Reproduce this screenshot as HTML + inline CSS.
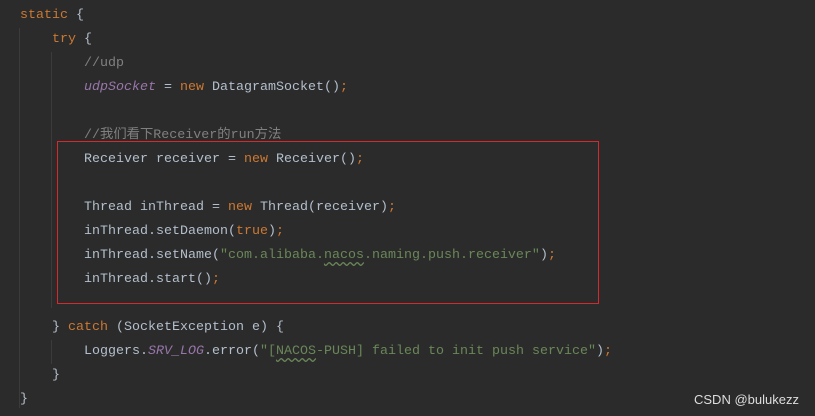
<!DOCTYPE html>
<html><head><meta charset="utf-8"><style>
body{margin:0;width:815px;height:416px;background:#2b2b2b;overflow:hidden;position:relative;font-family:"Liberation Mono","Noto Sans CJK SC",monospace;font-size:13.33px;color:#b3bfcc}
.l{position:absolute;height:24px;line-height:24px;white-space:pre}
.k{color:#cc7832}.c{color:#808080}.f{color:#9876aa;font-style:italic}.s{color:#6a8759}
.w{text-decoration:underline wavy #6a8759;text-underline-offset:3px}
.g{position:absolute;width:1px;background:#3b3b3b}
</style></head><body>
<div class="g" style="left:19px;top:28px;height:380px"></div>
<div class="g" style="left:51px;top:52px;height:256px"></div>
<div class="g" style="left:51px;top:340px;height:24px"></div>
<div style="position:absolute;left:57px;top:141px;width:540px;height:161px;border:1px solid #d42a2e"></div>
<div class="l" style="left:20px;top:4px"><span class="k">static</span> {</div>
<div class="l" style="left:52px;top:28px"><span class="k">try</span> {</div>
<div class="l c" style="left:84px;top:52px">//udp</div>
<div class="l" style="left:84px;top:76px"><span class="f">udpSocket</span> = <span class="k">new</span> DatagramSocket()<span class="k">;</span></div>
<div class="l c" style="left:84px;top:124px">//我们看下Receiver的run方法</div>
<div class="l" style="left:84px;top:148px">Receiver receiver = <span class="k">new</span> Receiver()<span class="k">;</span></div>
<div class="l" style="left:84px;top:196px">Thread inThread = <span class="k">new</span> Thread(receiver)<span class="k">;</span></div>
<div class="l" style="left:84px;top:220px">inThread.setDaemon(<span class="k">true</span>)<span class="k">;</span></div>
<div class="l" style="left:84px;top:244px">inThread.setName(<span class="s">"com.alibaba.<span class="w">nacos</span>.naming.push.receiver"</span>)<span class="k">;</span></div>
<div class="l" style="left:84px;top:268px">inThread.start()<span class="k">;</span></div>
<div class="l" style="left:52px;top:316px">} <span class="k">catch</span> (SocketException e) {</div>
<div class="l" style="left:84px;top:340px">Loggers.<span class="f">SRV_LOG</span>.error(<span class="s">"[<span class="w">NACOS</span>-PUSH] failed to init push service"</span>)<span class="k">;</span></div>
<div class="l" style="left:52px;top:364px">}</div>
<div class="l" style="left:20px;top:388px">}</div>
<div class="l" style="left:694px;top:388px;font-family:'Liberation Sans',sans-serif;font-size:13px;color:#dddddd">CSDN @bulukezz</div>
</body></html>
